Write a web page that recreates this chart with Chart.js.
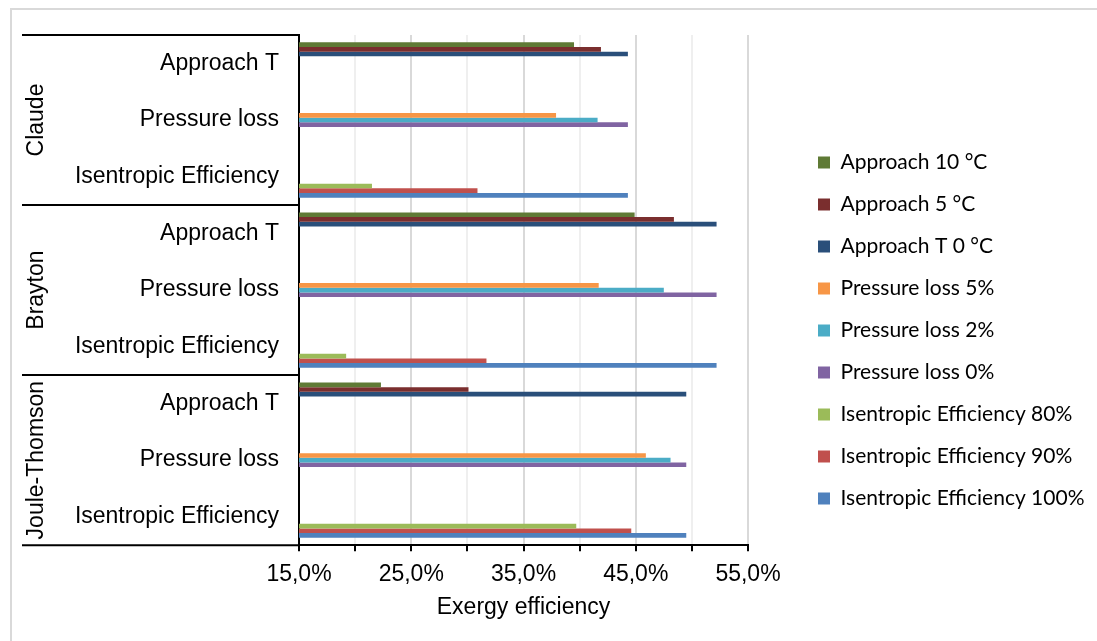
<!DOCTYPE html>
<html>
<head>
<meta charset="utf-8">
<script src="https://cdn.jsdelivr.net/npm/chart.js@4.4.1/dist/chart.umd.min.js"></script>
<style>
    html, body { margin: 0; padding: 0; background: #fff; }
    #wrap { position: relative; width: 1097px; height: 641px; overflow: hidden; }
    #frame { position: absolute; left: 10px; top: 8px; width: 1200px; height: 700px;
             border-left: 2px solid #d9d9d9; border-top: 2px solid #d9d9d9; }
    #chartCanvas { position: absolute; left: 0; top: 0; }
</style>
</head>
<body>
<div id="wrap">
    <div id="frame"></div>
    <canvas id="chartCanvas" width="1097" height="641"></canvas>
</div>
<script>
const groups = ['Claude', 'Brayton', 'Joule-Thomson'];
const subLabels = ['Approach T', 'Pressure loss', 'Isentropic Efficiency'];
const categories = groups.flatMap(() => subLabels);

const seriesNames = [
    'Approach 10 °C', 'Approach 5 °C', 'Approach T 0 °C',
    'Pressure loss 5%', 'Pressure loss 2%', 'Pressure loss 0%',
    'Isentropic Efficiency 80%', 'Isentropic Efficiency 90%', 'Isentropic Efficiency 100%'
];
const seriesColors = [
    '#5f7a35', '#7a2e2e', '#2a4f7a',
    '#f79646', '#4bacc6', '#8064a2',
    '#9bbb59', '#c0504d', '#4f81bd'
];

// exergy efficiency in %, one value per category row (null = not part of that study)
const approach10 = [39.5, null, null, 44.9, null, null, 22.3, null, null];
const approach5  = [41.9, null, null, 48.4, null, null, 30.1, null, null];
const approach0  = [44.3, null, null, 52.2, null, null, 49.5, null, null];
const pressure5  = [null, 37.9, null, null, 41.7, null, null, 45.9, null];
const pressure2  = [null, 41.6, null, null, 47.5, null, null, 48.1, null];
const pressure0  = [null, 44.3, null, null, 52.2, null, null, 49.5, null];
const isen80     = [null, null, 21.5, null, null, 19.2, null, null, 39.7];
const isen90     = [null, null, 30.9, null, null, 31.7, null, null, 44.6];
const isen100    = [null, null, 44.3, null, null, 52.2, null, null, 49.5];

const seriesValues = [approach10, approach5, approach0, pressure5, pressure2, pressure0, isen80, isen90, isen100];

const xMin = 15;
const xMax = 55;
const xStep = 5;

const axisFont = { family: '"Liberation Sans", Arial, sans-serif', size: 23 };

// group labels + separator lines on the left (multi-level category axis)
const groupAxis = {
    id: 'groupAxis',
    afterDraw(chart) {
        const ctx = chart.ctx;
        const y = chart.scales.y;
        const left = 22;
        const right = chart.chartArea.left;
        const per = subLabels.length;
        const edges = [y.top];
        for (let g = 1; g < groups.length; g++) {
            edges.push((y.getPixelForValue(g * per - 1) + y.getPixelForValue(g * per)) / 2);
        }
        edges.push(y.bottom);

        ctx.save();
        ctx.strokeStyle = '#000';
        ctx.lineWidth = 2;
        edges.forEach(e => {
            ctx.beginPath();
            ctx.moveTo(left, e);
            ctx.lineTo(right, e);
            ctx.stroke();
        });
        ctx.fillStyle = '#000';
        ctx.font = axisFont.size + 'px ' + axisFont.family;
        ctx.textAlign = 'center';
        ctx.textBaseline = 'middle';
        groups.forEach((name, g) => {
            ctx.save();
            ctx.translate(37, (edges[g] + edges[g + 1]) / 2);
            ctx.rotate(-Math.PI / 2);
            ctx.fillText(name, 0, 0);
            ctx.restore();
        });
        ctx.restore();
    }
};

const legendWidth = {
    id: 'legendWidth',
    beforeInit(chart) {
        const fit = chart.legend.fit;
        chart.legend.fit = function () {
            fit.call(this);
            this.width = 300;
        };
    }
};

new Chart(document.getElementById('chartCanvas').getContext('2d'), {
    type: 'bar',
    data: {
        labels: categories,
        datasets: seriesNames.map((name, i) => ({
            label: name,
            data: seriesValues[i],
            backgroundColor: seriesColors[i],
            borderWidth: 0,
            categoryPercentage: 0.74,
            barPercentage: 1.0,
            xAxisID: 'x',
            yAxisID: 'y'
        }))
    },
    options: {
        indexAxis: 'y',
        responsive: false,
        animation: false,
        layout: { padding: { left: 22, top: 35, right: 0, bottom: 15 } },
        scales: {
            y: {
                type: 'category',
                position: 'left',
                grid: { display: false, drawTicks: false },
                border: { color: '#000', width: 2 },
                ticks: { color: '#000', font: axisFont, padding: 20, autoSkip: false },
                afterFit: s => { s.width = 277; }
            },
            yRight: {
                type: 'category',
                position: 'right',
                grid: { display: false, drawTicks: false },
                border: { display: false },
                ticks: { display: false },
                afterFit: s => { s.width = 49; }
            },
            x: {
                type: 'linear',
                min: xMin,
                max: xMax,
                grid: {
                    color: c => c.index === 0 ? 'rgba(0,0,0,0)' : (c.index % 2 === 0 ? '#d9d9d9' : '#efefef'),
                    lineWidth: 2,
                    drawTicks: true,
                    tickLength: 6,
                    tickColor: '#000',
                    tickWidth: 2
                },
                border: { color: '#000', width: 2 },
                ticks: {
                    stepSize: xStep,
                    color: '#000',
                    font: axisFont,
                    padding: 10,
                    autoSkip: false,
                    maxRotation: 0,
                    callback: v => (Math.round(v - xMin) % 10 === 0) ? v.toFixed(1).replace('.', ',') + '%' : ''
                },
                title: {
                    display: true,
                    text: 'Exergy efficiency',
                    color: '#000',
                    font: { family: axisFont.family, size: axisFont.size, lineHeight: 0.75 },
                    padding: { top: 0, bottom: 10 }
                }
            }
        },
        plugins: {
            legend: {
                position: 'right',
                labels: {
                    boxWidth: 12,
                    boxHeight: 12,
                    padding: 21,
                    color: '#000',
                    font: { family: 'Lato, "Noto Sans", sans-serif', size: 21 }
                }
            },
            tooltip: { enabled: false }
        }
    },
    plugins: [groupAxis, legendWidth]
});
</script>
</body>
</html>
